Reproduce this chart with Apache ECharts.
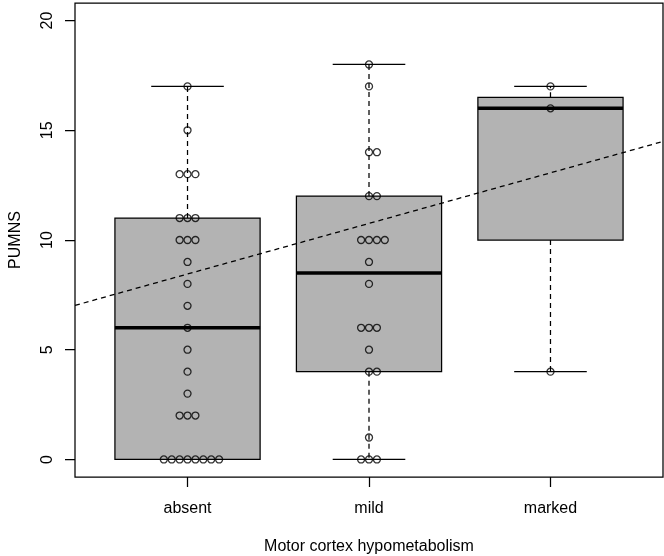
<!DOCTYPE html>
<html>
<head>
<meta charset="utf-8">
<script src="https://cdn.jsdelivr.net/npm/echarts@6/dist/echarts.min.js"></script>
<style>
html,body{margin:0;padding:0;background:#fff;}
#chart{width:664px;height:556px;}
</style>
</head>
<body>
<div id="chart"></div>
<script>
// ---- data ----
const categories = ['absent', 'mild', 'marked'];
const absentValues = [17, 15, 13, 13, 13, 11, 11, 11, 10, 10, 10, 9, 8, 7, 6, 5, 4, 3, 2, 2, 2, 0, 0, 0, 0, 0, 0, 0, 0];
const mildValues = [18, 17, 14, 14, 12, 12, 10, 10, 10, 10, 9, 8, 6, 6, 6, 5, 4, 4, 1, 0, 0, 0];
const markedValues = [17, 16, 4];
const yTicks = [0, 5, 10, 15, 20];
const regLineX = [0.38, 3.62];
const regLineY = [7.02, 14.49];

const groups = [absentValues, mildValues, markedValues];

// R-style fivenum (Tukey hinges)
function fivenum(arr) {
  const x = arr.slice().sort((a, b) => a - b);
  const n = x.length;
  const n4 = Math.floor((n + 3) / 2) / 2;
  const d = [1, n4, (n + 1) / 2, n + 1 - n4, n];
  return d.map(v => 0.5 * (x[Math.floor(v) - 1] + x[Math.ceil(v) - 1]));
}
function boxStats(arr) {
  const f = fivenum(arr);
  const iqr = f[3] - f[1];
  const inside = arr.filter(v => v >= f[1] - 1.5 * iqr && v <= f[3] + 1.5 * iqr);
  return [Math.min(...inside), f[1], f[2], f[3], Math.max(...inside)];
}

const boxData = groups.map((g, i) => [i + 1].concat(boxStats(g)));

// swarm-like offsets: 0, +1, -1, +2, -2 ...
const spacing = 7.9;
const pointData = [];
groups.forEach((g, i) => {
  const seen = {};
  g.forEach(v => {
    const k = seen[v] || 0;
    seen[v] = k + 1;
    const idx = k === 0 ? 0 : (k % 2 === 1 ? (k + 1) / 2 : -k / 2);
    pointData.push({ value: [i + 1, v], symbolOffset: [idx * spacing, 0] });
  });
});

const regData = regLineX.map((x, i) => [x, regLineY[i]]);

const chart = echarts.init(document.getElementById('chart'), null, { renderer: 'canvas' });
const font = 'Liberation Sans, Arial, Helvetica, sans-serif';
const dash = [5, 4];
const lw = 1.25;

chart.setOption({
  animation: false,
  backgroundColor: '#fff',
  textStyle: { fontFamily: font },
  grid: {
    left: 75, right: 1, top: 3, height: 474,
    containLabel: false, outerBoundsMode: 'none',
    show: true, borderColor: '#000', borderWidth: lw, backgroundColor: 'transparent'
  },
  xAxis: {
    type: 'value', min: 0.38, max: 3.62,
    splitLine: { show: false },
    axisLine: { show: false, onZero: false },
    axisTick: { show: true, customValues: [1, 2, 3], length: 10, lineStyle: { color: '#000', width: lw } },
    axisLabel: {
      customValues: [1, 2, 3],
      formatter: v => categories[Math.round(v) - 1],
      color: '#000', fontSize: 16, margin: 24, fontFamily: font
    },
    name: 'Motor cortex hypometabolism',
    nameLocation: 'middle', nameGap: 62,
    nameTextStyle: { color: '#000', fontSize: 16, fontFamily: font }
  },
  yAxis: {
    type: 'value', min: -0.8, max: 20.8,
    splitLine: { show: false },
    axisLine: { show: false, onZero: false },
    axisTick: { show: true, customValues: yTicks, length: 10, lineStyle: { color: '#000', width: lw } },
    axisLabel: {
      customValues: yTicks, rotate: 90,
      color: '#000', fontSize: 16, margin: 19, fontFamily: font
    },
    name: 'PUMNS',
    nameLocation: 'middle', nameGap: 51, nameRotate: 90,
    nameTextStyle: { color: '#000', fontSize: 16, fontFamily: font }
  },
  series: [
    {
      type: 'custom',
      z: 1,
      data: boxData,
      encode: { x: 0, y: [1, 2, 3, 4, 5] },
      renderItem: function (params, api) {
        const x = api.value(0), lo = api.value(1), q1 = api.value(2), med = api.value(3), q3 = api.value(4), hi = api.value(5);
        const hw = 0.4, cw = 0.2;
        const tl = api.coord([x - hw, q3]);
        const br = api.coord([x + hw, q1]);
        const c = (p, q) => ({ x1: p[0], y1: p[1], x2: q[0], y2: q[1] });
        const solid = { stroke: '#000', lineWidth: lw };
        const dashed = { stroke: '#000', lineWidth: lw, lineDash: dash };
        return {
          type: 'group',
          children: [
            { type: 'line', shape: c(api.coord([x, q3]), api.coord([x, hi])), style: dashed },
            { type: 'line', shape: c(api.coord([x, q1]), api.coord([x, lo])), style: dashed },
            { type: 'line', shape: c(api.coord([x - cw, hi]), api.coord([x + cw, hi])), style: solid },
            { type: 'line', shape: c(api.coord([x - cw, lo]), api.coord([x + cw, lo])), style: solid },
            { type: 'rect', shape: { x: tl[0], y: tl[1], width: br[0] - tl[0], height: br[1] - tl[1] },
              style: { fill: '#B3B3B3', stroke: '#000', lineWidth: lw } },
            { type: 'line', shape: c(api.coord([x - hw, med]), api.coord([x + hw, med])), style: { stroke: '#000', lineWidth: 3.5 } }
          ]
        };
      }
    },
    {
      type: 'line',
      z: 2,
      data: regData,
      showSymbol: false,
      symbol: 'none',
      clip: true,
      lineStyle: { color: '#000', width: lw, type: dash }
    },
    {
      type: 'scatter',
      z: 3,
      data: pointData,
      symbol: 'circle',
      symbolSize: 7,
      itemStyle: { color: 'rgba(0,0,0,0)', borderColor: '#000', borderWidth: 1.3 }
    }
  ]
});
</script>
</body>
</html>
